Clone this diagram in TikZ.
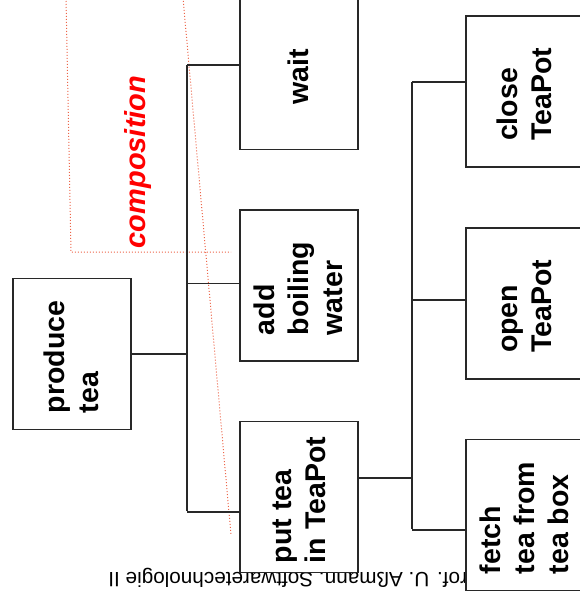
\documentclass[tikz,border=0pt]{standalone}
\usepackage{fontspec}
\setmainfont{Liberation Sans}
\usepackage{graphicx}
\definecolor{hintred}{RGB}{236,100,72}
\definecolor{linegray}{RGB}{40,40,40}
% label of a task, turned to read bottom-up, set a little off centre
\newcommand{\uplabel}[1]{\rotatebox{90}{%
  \raisebox{0pt}[\dimexpr\height+6pt\relax][\depth]{\begin{tabular}{@{}l@{}}#1\end{tabular}}%
  \hspace*{6pt}}}
\begin{document}
\begin{tikzpicture}[x=1pt,y=-1pt,
  task/.style={draw=linegray, line width=1.3pt, fill=white,
    minimum width=118pt, minimum height=151pt, inner sep=0pt,
    font=\fontsize{28.5}{34}\selectfont\bfseries},
  link/.style={draw=linegray, line width=1.3pt},
  hint/.style={draw=hintred, dotted, line width=1pt}]
\useasboundingbox (0,0) rectangle (580,599);

% footer line of the slide, upside down
\node[rotate=180, anchor=base west, inner sep=0pt,
  font=\fontsize{20.7}{24}\selectfont] (footer) at (481,572)
  {Prof. U. Aßmann, Softwaretechnologie II};

% dotted frame marking the composition
\coordinate (h1) at (66,-2);
\coordinate (h2) at (71,252);
\coordinate (h3) at (231,252);
\coordinate (h4) at (183,-2);
\coordinate (h5) at (231,535);
\draw[hint] (h1) -- (h2) -- (h3);
\draw[hint] (h4) -- (h5);
\node[rotate=90, anchor=base, inner sep=0pt, text=red,
  font=\fontsize{29}{34}\selectfont\bfseries\itshape] (comp) at (145,162) {composition};

% tasks
\node[task] (produce) at (72,354)  {\uplabel{produce\\tea}};
\node[task] (wait)    at (299,74)  {\uplabel{wait}};
\node[task] (add)     at (299,285.5) {\uplabel{add\\boiling\\water}};
\node[task] (put)     at (299,497) {\uplabel{put tea\\in TeaPot}};
\node[task] (close)   at (525,91.5) {\uplabel{close\\TeaPot}};
\node[task] (open)    at (525,303.5) {\uplabel{open\\TeaPot}};
\node[task] (fetch)   at (525,515) {\uplabel{fetch\\tea from\\tea box}};

% first level of the tree
\coordinate (ta) at (187,65);
\coordinate (tb) at (187,511);
\path ([yshift=9pt]wait.west) coordinate (win)
      ([yshift=2pt]add.west) coordinate (ain)
      ([yshift=-15pt]put.west) coordinate (pin);
\draw[link] (ta) -- (tb);
\draw[link] (produce.east) -- (produce.east -| ta);
\draw[link] (win) -- (win -| ta);
\draw[link] (ain) -- (ain -| ta);
\draw[link] (pin) -- (pin -| ta);

% second level of the tree
\coordinate (sa) at (412,82);
\coordinate (sb) at (412,529);
\path ([yshift=19pt]put.east) coordinate (pout)
      ([yshift=9.5pt]close.west) coordinate (cin)
      ([yshift=3.5pt]open.west) coordinate (oin)
      ([yshift=-15pt]fetch.west) coordinate (fin);
\draw[link] (sa) -- (sb);
\draw[link] (pout) -- (pout -| sa);
\draw[link] (cin) -- (cin -| sa);
\draw[link] (oin) -- (oin -| sa);
\draw[link] (fin) -- (fin -| sa);
\end{tikzpicture}
\end{document}
